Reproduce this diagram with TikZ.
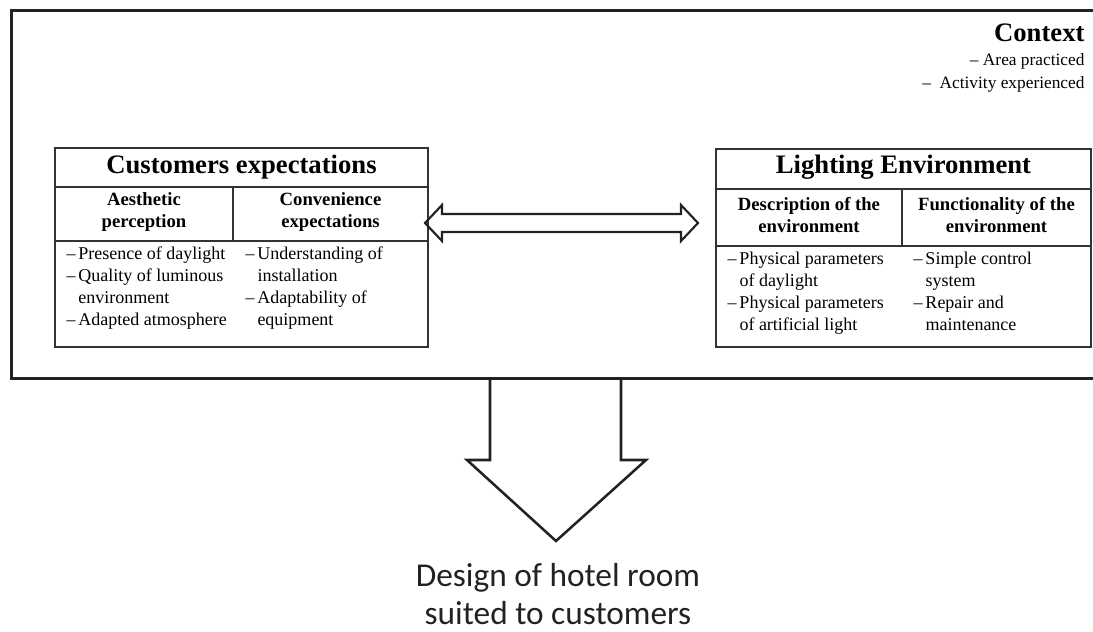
\documentclass[tikz,border=0pt]{standalone}
\usepackage{fontspec}
\setmainfont{Liberation Serif}
\newfontfamily\designfont{Carlito}

\tikzset{every picture/.style={line width=0.75pt}}
\tikzset{
	contextframe/.style={draw={rgb, 255:red, 34; green, 34; blue, 34 }, line width=2.25pt},
	tablebox/.style={draw={rgb, 255:red, 51; green, 51; blue, 51 }, line width=1.5pt},
	blockarrow/.style={draw={rgb, 255:red, 34; green, 34; blue, 34 }, line width=1.6pt, line join=miter},
	titletext/.style={font=\fontsize{20}{24}\bfseries\selectfont},
	headtext/.style={font=\fontsize{14}{16}\bfseries\selectfont, align=center},
	itemtext/.style={font=\fontsize{13.5}{16.5}\selectfont, align=left, anchor=north west, inner sep=0pt},
}

\begin{document}
\begin{tikzpicture}[x=0.75pt,y=0.75pt,yscale=-1,xscale=1]
	\useasboundingbox (0,0) rectangle (1093,632);

	%Shape: Context frame (open on the right)
	\draw [contextframe] (1093,10) -- (11,10) -- (11,378) -- (1093,378) ;

	% Text Node
	\draw (1085,41) node [anchor=base east, inner sep=0pt, font=\fontsize{20}{24}\bfseries\selectfont] (context) {Context};
	% Text Node
	\draw (1085,53) node [anchor=north east, inner sep=0pt, align=right, font=\fontsize{13}{17}\selectfont] (contextitems) {– Area practiced\\–\ \ Activity experienced};

	%Shape: Rectangle [customers table]
	\draw [tablebox] (55,148) rectangle (428,347) ;
	\draw [tablebox] (55,187) -- (428,187) ;
	\draw [tablebox] (55,241) -- (428,241) ;
	\draw [tablebox] (233,187) -- (233,241) ;

	% Text Node
	\draw (241.5,167) node [titletext] (custtitle) {Customers expectations};
	% Text Node
	\draw (144,212) node [headtext] (aesthetic) {Aesthetic\\perception};
	% Text Node
	\draw (330.5,212) node [headtext] (convenience) {Convenience\\expectations};
	% Text Node
	\draw (66,246) node [itemtext] (aestheticitems) {–\,Presence of daylight\\–\,Quality of luminous\\\hphantom{–\,}environment\\–\,Adapted atmosphere};
	% Text Node
	\draw (245,246) node [itemtext] (convenienceitems) {–\,Understanding of\\\hphantom{–\,}installation\\–\,Adaptability of\\\hphantom{–\,}equipment};

	%Shape: Rectangle [lighting table]
	\draw [tablebox] (716,149) rectangle (1091,347) ;
	\draw [tablebox] (716,189) -- (1091,189) ;
	\draw [tablebox] (716,246) -- (1091,246) ;
	\draw [tablebox] (902,189) -- (902,246) ;

	% Text Node
	\draw (903.5,167) node [titletext] (lighttitle) {Lighting Environment};
	% Text Node
	\draw (809,215) node [headtext] (description) {Description of the\\environment};
	% Text Node
	\draw (996.5,215) node [headtext] (functionality) {Functionality of the\\environment};
	% Text Node
	\draw (727,252) node [itemtext] (descriptionitems) {–\,Physical parameters\\\hphantom{–\,}of daylight\\–\,Physical parameters\\\hphantom{–\,}of artificial light};
	% Text Node
	\draw (913,252) node [itemtext] (functionalityitems) {–\,Simple control\\\hphantom{–\,}system\\–\,Repair and\\\hphantom{–\,}maintenance};

	%Shape: Left-Right Arrow [id:customers to lighting]
	\coordinate (custtip) at (425,223) ;
	\draw [blockarrow] (custtip) -- ++(17,-18) -- ++(0,9) -- ++(239,0) -- ++(0,-9) -- ++(17,18) -- ++(-17,18) -- ++(0,-9) -- ++(-239,0) -- ++(0,9) -- cycle ;

	%Shape: Down Arrow [id:context to design]
	\coordinate (downleft) at (490,378) ;
	\draw [blockarrow, line width=1.9pt] (downleft) -- ++(0,82) -- ++(-23,0) -- ++(89,81) -- ++(90,-81) -- ++(-25,0) -- ++(0,-82) ;

	% Text Node
	\draw (558,594) node [align=center, font=\designfont\fontsize{25}{29}\selectfont, text={rgb, 255:red, 34; green, 34; blue, 34 }] (design) {Design of hotel room\\suited to customers};

\end{tikzpicture}
\end{document}
